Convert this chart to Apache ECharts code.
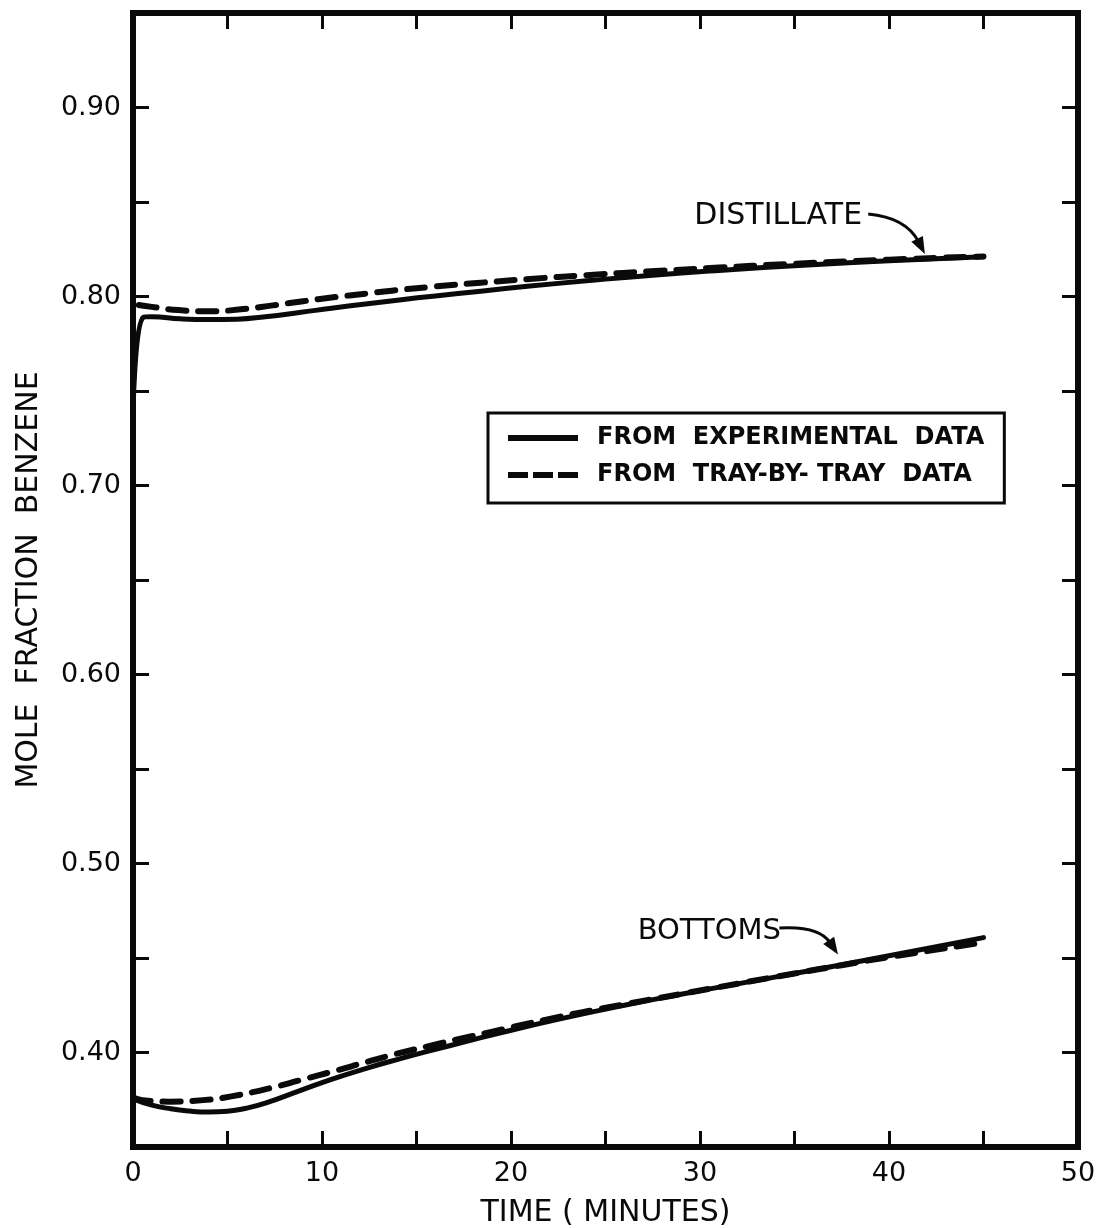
<!DOCTYPE html>
<html>
<head>
<meta charset="utf-8">
<script src="https://cdn.jsdelivr.net/npm/echarts@6/dist/echarts.min.js"></script>
<style>
html,body{margin:0;padding:0;background:#fff;}
#chart{width:1099px;height:1228px;}
</style>
</head>
<body>
<div id="chart"></div>
<script>
// ---- data ----
const distillateExpTime = [0, 0.55, 1, 2.5, 4, 5.5, 7, 8.8, 10.5, 12.3, 14.1, 16, 18.4, 21, 24, 27.5, 31, 35.7, 40, 45];
const distillateExpFrac = [0.738, 0.789, 0.7893, 0.7882, 0.7878, 0.788, 0.7893, 0.7915, 0.7938, 0.796, 0.7982, 0.8003, 0.8028, 0.8055, 0.8083, 0.8113, 0.8138, 0.8167, 0.8189, 0.821];

const distillateTrayTime = [0.3, 1, 2.4, 4.1, 5.7, 7.4, 9, 10.6, 12.3, 13.7, 16, 18.4, 21, 24, 27.9, 31, 34.5, 40, 45];
const distillateTrayFrac = [0.7955, 0.7945, 0.7928, 0.7922, 0.7932, 0.7953, 0.7975, 0.7996, 0.8015, 0.8031, 0.8053, 0.8073, 0.8093, 0.8113, 0.8136, 0.8153, 0.8171, 0.8195, 0.8212];

const bottomsExpTime = [0, 1, 2, 3, 4, 5, 6, 7, 8.8, 10.5, 12.3, 14.1, 15.9, 17.7, 19.4, 22.6, 26, 29, 32.2, 35, 40, 45];
const bottomsExpFrac = [0.3755, 0.3722, 0.3702, 0.369, 0.3685, 0.3689, 0.3705, 0.3732, 0.3797, 0.3858, 0.3915, 0.3966, 0.4014, 0.406, 0.4103, 0.4178, 0.425, 0.4308, 0.4367, 0.4418, 0.4512, 0.4608];

const bottomsTrayTime = [0, 0.5, 1.95, 3.7, 5.2, 7.4, 8.9, 10.7, 12.3, 13.9, 15.7, 17.1, 18.9, 22.6, 24.4, 30, 35, 37.5, 40, 45];
const bottomsTrayFrac = [0.3762, 0.3748, 0.374, 0.3748, 0.3768, 0.3815, 0.3855, 0.3903, 0.3948, 0.3992, 0.4035, 0.4068, 0.4108, 0.419, 0.4225, 0.4328, 0.4418, 0.4462, 0.4505, 0.4582];

const xTickLabels = ['0', '10', '20', '30', '40', '50'];
const yTickLabels = ['0.40', '0.50', '0.60', '0.70', '0.80', '0.90'];

const legendExp = 'FROM  EXPERIMENTAL  DATA';
const legendTray = 'FROM  TRAY-BY- TRAY  DATA';

const zip = (a, b) => a.map((v, i) => [v, b[i]]);

const INK = '#0a0a0a';
const FONT = '"DejaVu Sans", sans-serif';

const chart = echarts.init(document.getElementById('chart'), null, {renderer: 'canvas'});

function xFmt(v) {
  const s = String(Math.round(v));
  return xTickLabels.indexOf(s) >= 0 ? s : '';
}
function yFmt(v) {
  const s = (Math.round(v * 100) / 100).toFixed(2);
  return yTickLabels.indexOf(s) >= 0 ? s : '';
}

const tick = {show: true, inside: true, length: 16, lineStyle: {color: INK, width: 3}};
const noLine = {show: false, onZero: false};

const solidStyle = {color: INK, width: 5, type: 'solid', cap: 'round', join: 'round'};
const dashStyle = {color: INK, width: 6, type: [18, 12], cap: 'round', join: 'round'};

function lineSeries(name, data, style) {
  return {
    name: name, type: 'line', data: data, xAxisIndex: 0, yAxisIndex: 0,
    showSymbol: false, symbol: 'none', smooth: 0.5,
    lineStyle: style, itemStyle: {color: INK}, silent: true, animation: false
  };
}

chart.setOption({
  backgroundColor: '#ffffff',
  animation: false,
  grid: {left: 133, right: 21, top: 13, bottom: 81, containLabel: false, outerBoundsMode: 'none',
         show: true, borderColor: INK, borderWidth: 6, backgroundColor: 'transparent'},
  xAxis: [
    {type: 'value', min: 0, max: 50, interval: 5, position: 'bottom',
     name: 'TIME ( MINUTES)', nameLocation: 'middle', nameGap: 51,
     nameTextStyle: {fontFamily: FONT, fontSize: 30, color: INK},
     axisLine: noLine, axisTick: tick, splitLine: {show: false},
     axisLabel: {formatter: xFmt, fontFamily: FONT, fontSize: 27, color: INK, margin: 13, showMinLabel: true, showMaxLabel: true}},
    {type: 'value', min: 0, max: 50, interval: 5, position: 'top',
     axisLine: noLine, axisTick: tick, splitLine: {show: false}, axisLabel: {show: false}}
  ],
  yAxis: [
    {type: 'value', min: 0.35, max: 0.95, interval: 0.05, position: 'left',
     name: 'MOLE  FRACTION  BENZENE', nameLocation: 'middle', nameGap: 89, nameRotate: 90,
     nameTextStyle: {fontFamily: FONT, fontSize: 30, color: INK},
     axisLine: noLine, axisTick: tick, splitLine: {show: false},
     axisLabel: {formatter: yFmt, fontFamily: FONT, fontSize: 27, color: INK, margin: 12}},
    {type: 'value', min: 0.35, max: 0.95, interval: 0.05, position: 'right',
     axisLine: noLine, axisTick: tick, splitLine: {show: false}, axisLabel: {show: false}}
  ],
  legend: {
    show: true, orient: 'vertical', left: 488, top: 413,
    padding: [13, 20, 16, 20], itemGap: 13, itemWidth: 70, itemHeight: 6,
    borderColor: INK, borderWidth: 3, backgroundColor: '#fff',
    selectedMode: false,
    itemStyle: {color: INK, borderWidth: 0},
    textStyle: {fontFamily: FONT, fontSize: 24, fontWeight: 'bold', color: INK, lineHeight: 24, padding: [0, 0, 0, 14]},
    data: [
      {name: legendExp, icon: 'path://M0,0h70v6h-70z'},
      {name: legendTray, icon: 'path://M0,0h20v6h-20zM25,0h20v6h-20zM50,0h20v6h-20z'}
    ]
  },
  series: [
    lineSeries(legendExp, zip(distillateExpTime, distillateExpFrac), solidStyle),
    lineSeries(legendTray, zip(distillateTrayTime, distillateTrayFrac), dashStyle),
    lineSeries(legendExp, zip(bottomsExpTime, bottomsExpFrac), solidStyle),
    lineSeries(legendTray, zip(bottomsTrayTime, bottomsTrayFrac), dashStyle)
  ]
});

// ---- annotations, anchored in data coordinates ----
function px(x, y) { return chart.convertToPixel({xAxisIndex: 0, yAxisIndex: 0}, [x, y]); }

function arrow(from, ctrl, tip) {
  const a = px(from[0], from[1]), c = px(ctrl[0], ctrl[1]), t = px(tip[0], tip[1]);
  let dx = t[0] - c[0], dy = t[1] - c[1];
  const len = Math.sqrt(dx * dx + dy * dy); dx /= len; dy /= len;
  const hl = 17, hw = 6.5;
  const base = [t[0] - dx * hl, t[1] - dy * hl];
  const shaftEnd = [t[0] - dx * (hl - 3), t[1] - dy * (hl - 3)];
  return [
    {type: 'bezierCurve', silent: true, z: 100,
     shape: {x1: a[0], y1: a[1], cpx1: c[0], cpy1: c[1], x2: shaftEnd[0], y2: shaftEnd[1]},
     style: {stroke: INK, lineWidth: 3, fill: null}},
    {type: 'polygon', silent: true, z: 100,
     shape: {points: [t, [base[0] - dy * hw, base[1] + dx * hw], [base[0] + dy * hw, base[1] - dx * hw]]},
     style: {fill: INK}}
  ];
}

const dl = px(29.7, 0.8426);
const bl = px(26.7, 0.4643);
const graphics = [
  {type: 'text', silent: true, z: 100, x: dl[0], y: dl[1],
   style: {text: 'DISTILLATE', font: '30px ' + FONT, fill: INK, align: 'left', verticalAlign: 'middle', textAlign: 'left', textVerticalAlign: 'middle'}},
  {type: 'text', silent: true, z: 100, x: bl[0], y: bl[1],
   style: {text: 'BOTTOMS', font: '29px ' + FONT, fill: INK, align: 'left', verticalAlign: 'middle', textAlign: 'left', textVerticalAlign: 'middle'}}
].concat(
  arrow([38.9, 0.8437], [40.9, 0.8418], [41.9, 0.8225]),
  arrow([34.2, 0.4659], [36.3, 0.4672], [37.3, 0.4518])
);
chart.setOption({graphic: graphics});
</script>
</body>
</html>
